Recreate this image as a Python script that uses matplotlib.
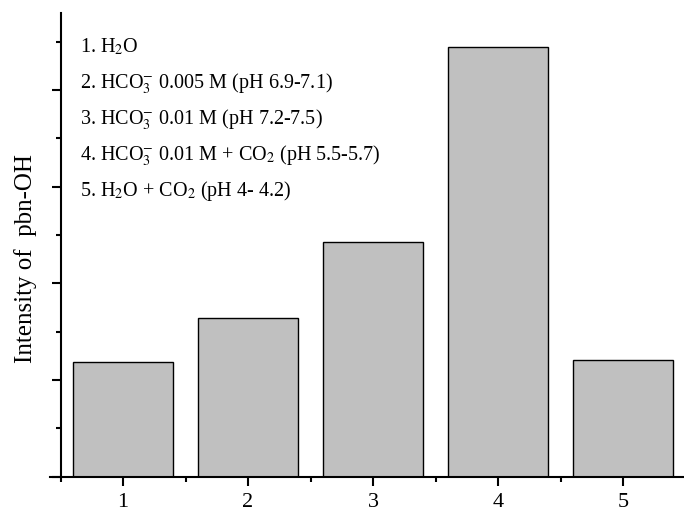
import matplotlib
matplotlib.use('Agg')
import matplotlib.pyplot as plt
from matplotlib.ticker import MultipleLocator

plt.rcParams['font.family'] = ['Liberation Serif', 'DejaVu Serif']
plt.rcParams['mathtext.fontset'] = 'stix'

# bar data (intensity, arbitrary units)
samples = [1, 2, 3, 4, 5]
intensity = [1.19, 1.64, 2.43, 4.44, 1.21]

legend_lines = [
    r'1. H$_2$O',
    r'2. HCO$_3^{\mathrm{-}}$ 0.005 M (pH 6.9-7.1)',
    r'3. HCO$_3^{\mathrm{-}}$ 0.01 M (pH 7.2-7.5)',
    r'4. HCO$_3^{\mathrm{-}}$ 0.01 M + CO$_2$ (pH 5.5-5.7)',
    r'5. H$_2$O + CO$_2$ (pH 4- 4.2)',
]

fig = plt.figure(figsize=(6.84, 5.12), dpi=100)
ax = fig.add_axes([50 / 684, 35.3 / 512, 634 / 684, 464 / 512])

ax.bar(samples, intensity, width=0.8, color='#c0c0c0', edgecolor='black', linewidth=1.0)

ax.set_xlim(0.416, 5.488)
ax.set_ylim(0, 4.8)

ax.spines['top'].set_visible(False)
ax.spines['right'].set_visible(False)
ax.spines['left'].set_position(('data', 0.5))
ax.spines['left'].set_linewidth(1.5)
ax.spines['bottom'].set_linewidth(1.5)

ax.set_xticks(samples)
ax.xaxis.set_minor_locator(MultipleLocator(0.5))
ax.yaxis.set_major_locator(MultipleLocator(1))
ax.yaxis.set_minor_locator(MultipleLocator(0.5))
ax.tick_params(which='major', direction='out', length=6.5, width=1.5, labelsize=16, pad=5.5)
ax.tick_params(which='minor', direction='out', length=3.5, width=1.5)
ax.tick_params(axis='y', which='both', labelleft=False)

ax.set_ylabel('Intensity of  pbn-OH', fontsize=18)
ax.yaxis.set_label_coords(-0.021, 0.47)

for i, line in enumerate(legend_lines):
    ax.text(0.047, 0.915 - i * 0.0776, line, transform=ax.transAxes,
            fontsize=14.5, va='baseline', ha='left')

plt.savefig('out.png', dpi=100)
